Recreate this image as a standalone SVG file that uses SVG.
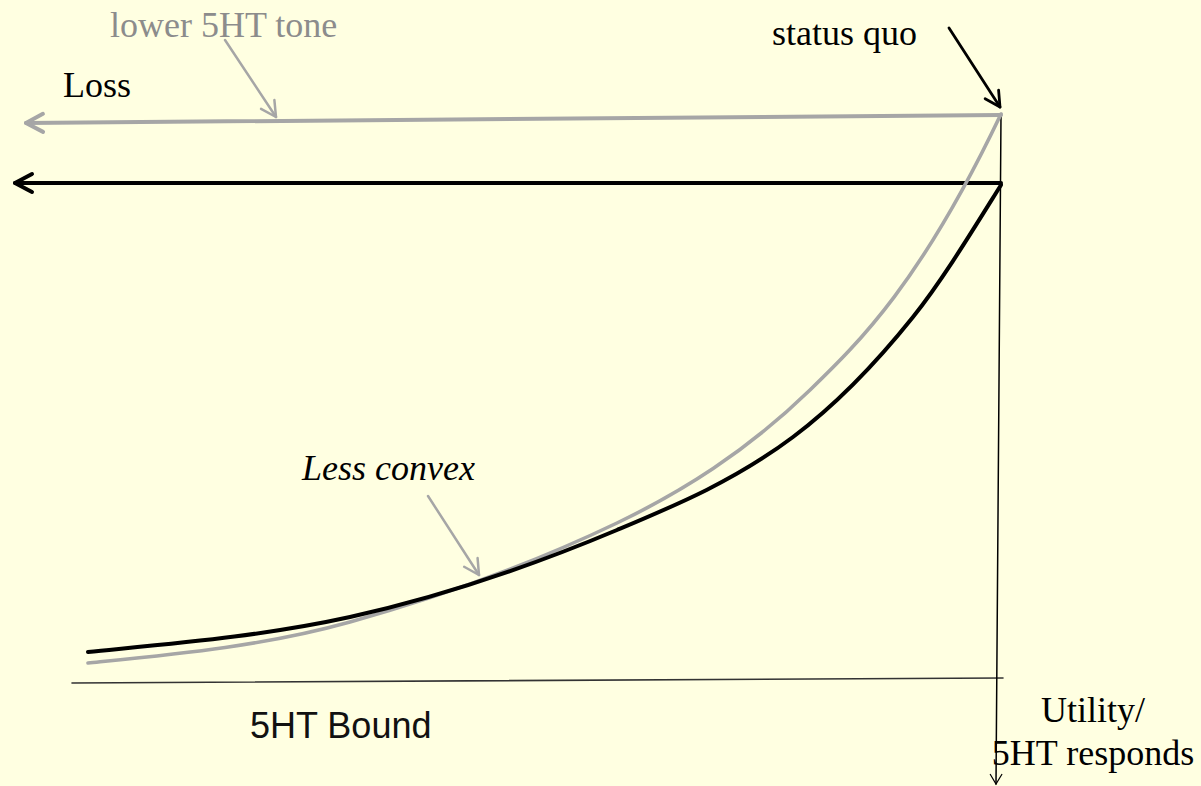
<svg xmlns="http://www.w3.org/2000/svg" width="1201" height="786" viewBox="0 0 1201 786">
<style>
.serif{font-family:"Liberation Serif","Times New Roman",serif;font-size:36px}
.sans{font-family:"Liberation Sans",Arial,sans-serif;font-size:36px}
.ln{fill:none;stroke-linecap:round;stroke-linejoin:round}
</style>
<defs>
<marker id="bigGray" markerUnits="userSpaceOnUse" viewBox="-22 -12 26 24" refX="0" refY="0" markerWidth="26" markerHeight="24" orient="auto" overflow="visible">
<path d="M-17,-9 L0,0 L-17,9" fill="none" stroke="#A6A6A6" stroke-width="4" stroke-linecap="round" stroke-linejoin="round"/>
</marker>
<marker id="bigBlack" markerUnits="userSpaceOnUse" viewBox="-22 -12 26 24" refX="0" refY="0" markerWidth="26" markerHeight="24" orient="auto" overflow="visible">
<path d="M-17,-9 L0,0 L-17,9" fill="none" stroke="#000" stroke-width="4" stroke-linecap="round" stroke-linejoin="round"/>
</marker>
<marker id="ptrGray" markerUnits="userSpaceOnUse" viewBox="-20 -10 24 20" refX="0" refY="0" markerWidth="24" markerHeight="20" orient="auto" overflow="visible">
<path d="M-15,-8 L0,0 L-15,8" fill="none" stroke="#A6A6A6" stroke-width="2.5" stroke-linecap="round" stroke-linejoin="round"/>
</marker>
<marker id="ptrBlack" markerUnits="userSpaceOnUse" viewBox="-20 -10 24 20" refX="0" refY="0" markerWidth="24" markerHeight="20" orient="auto" overflow="visible">
<path d="M-15,-8 L0,0 L-15,8" fill="none" stroke="#000" stroke-width="2.8" stroke-linecap="round" stroke-linejoin="round"/>
</marker>
<marker id="axisArrow" markerUnits="userSpaceOnUse" viewBox="-14 -8 16 16" refX="0" refY="0" markerWidth="16" markerHeight="16" orient="auto" overflow="visible">
<path d="M-10,-6 L0,0 L-10,6" fill="none" stroke="#000" stroke-width="1.2"/>
</marker>
</defs>
<rect width="1201" height="786" fill="#FFFFE1"/>
<g id="connectors">
<path id="axis-x" class="ln" d="M72,683 L1003,678" stroke="#333" stroke-width="1.6"/>
<path id="axis-y" class="ln" d="M1001,115 L996,784" stroke="#000" stroke-width="1.5" marker-end="url(#axisArrow)"/>
<path id="loss-gray" class="ln" d="M1001,115 L26,123" stroke="#A6A6A6" stroke-width="4" marker-end="url(#bigGray)"/>
<path id="loss-black" class="ln" d="M1001,183 L15,183" stroke="#000" stroke-width="4" marker-end="url(#bigBlack)"/>
<path id="curve-gray" class="ln" stroke="#A6A6A6" stroke-width="3.6" d="M88,663 C175.3,654.3 262.7,646.4 350,622 C439,597.1 528,565.7 617,523 C681.3,492.1 745.7,452.4 810,390 C860,341.5 921,282 1001,114"/>
<path id="curve-black" class="ln" stroke="#000" stroke-width="4" d="M88,652 C175.3,643.3 262.7,636.2 350,617 C439,597.4 528,567.4 617,530 C675.7,505.3 734.3,481 793,437 C833,407 873,367 913,317 C942.3,280.3 971.7,231.9 1001,185"/>
<path id="ptr-lower" class="ln" d="M225,40 L276,117" stroke="#A6A6A6" stroke-width="2.5" marker-end="url(#ptrGray)"/>
<path id="ptr-status" class="ln" d="M949,28 L1000,107" stroke="#000" stroke-width="2.8" marker-end="url(#ptrBlack)"/>
<path id="ptr-convex" class="ln" d="M428,496 L479,575" stroke="#A6A6A6" stroke-width="2.5" marker-end="url(#ptrGray)"/>
</g>
<g id="label-lower"><text class="serif" x="110" y="37" fill="#8C8C8C">lower 5HT tone</text></g>
<g id="label-loss"><text class="serif" x="63" y="97" fill="#000">Loss</text></g>
<g id="label-status"><text class="serif" x="772" y="45" fill="#000">status quo</text></g>
<g id="label-convex"><text class="serif" x="302" y="480" fill="#000" font-style="italic">Less convex</text></g>
<g id="label-bound"><text class="sans" x="250" y="738" fill="#111">5HT Bound</text></g>
<g id="label-utility"><text class="serif" text-anchor="middle" fill="#000"><tspan x="1093" y="722">Utility/</tspan><tspan x="1093" y="765">5HT responds</tspan></text></g>
</svg>
